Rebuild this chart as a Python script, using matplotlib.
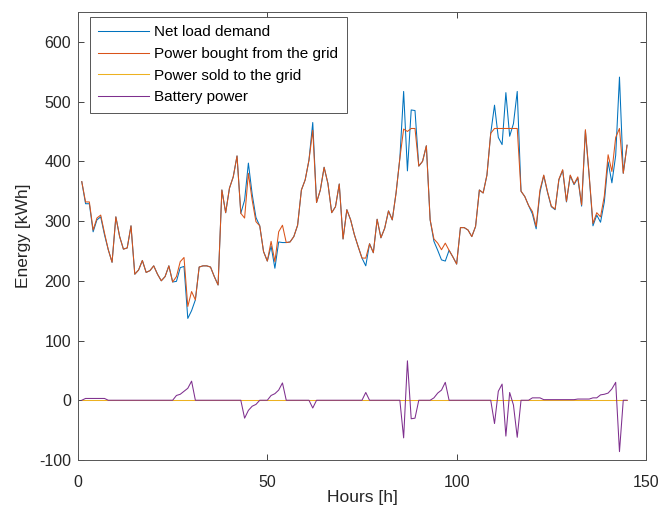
"""
Hourly energy balance: load, grid exchange and battery power
"""
import numpy as np
import matplotlib.pyplot as plt

plt.rcParams['font.family'] = ['Liberation Sans', 'DejaVu Sans']
plt.rcParams['axes.unicode_minus'] = False

hours = np.arange(1, 146)

# power bought from the grid [kWh]
bought = [
    366, 332, 332, 285, 305, 310, 280, 252, 231, 307,
    274, 253, 255, 292, 211, 218, 234, 214, 217, 225,
    211, 200, 207, 225, 198, 207, 232, 239, 157, 182,
    168, 223, 225, 225, 223, 207, 193, 352, 314, 355,
    374, 409, 313, 305, 380, 335, 299, 292, 249, 233,
    266, 232, 282, 293, 264, 265, 274, 293, 352, 369,
    402, 452, 331, 352, 390, 363, 314, 324, 362, 270,
    319, 302, 277, 257, 238, 238, 262, 247, 303, 272,
    288, 317, 302, 347, 405, 454, 450, 455, 455, 392,
    400, 426, 302, 270, 263, 252, 263, 251, 240, 228,
    289, 289, 285, 274, 291, 352, 347, 377, 447, 455,
    455, 455, 455, 455, 455, 455, 350, 341, 326, 316,
    291, 352, 377, 349, 325, 320, 370, 386, 333, 377,
    362, 374, 327, 453, 377, 296, 314, 307, 342, 411,
    383, 440, 455, 380, 427,
]

# net load demand [kWh]
load = [
    366, 329, 329, 282, 302, 307, 277, 252, 231, 307,
    274, 253, 255, 292, 211, 218, 234, 214, 217, 225,
    211, 200, 207, 225, 198, 199, 222, 224, 137, 150,
    168, 223, 225, 225, 223, 207, 193, 352, 314, 355,
    374, 409, 313, 335, 397, 345, 306, 292, 249, 233,
    258, 221, 265, 264, 264, 265, 274, 293, 352, 369,
    402, 465, 331, 352, 390, 363, 314, 324, 362, 270,
    319, 302, 277, 257, 238, 225, 262, 247, 303, 272,
    288, 317, 302, 347, 405, 517, 384, 486, 485, 392,
    400, 426, 302, 266, 251, 235, 233, 251, 240, 228,
    289, 289, 285, 274, 291, 352, 347, 377, 447, 494,
    440, 428, 515, 442, 463, 517, 350, 341, 326, 312,
    287, 348, 376, 348, 324, 319, 369, 385, 332, 376,
    361, 372, 325, 451, 375, 292, 310, 298, 332, 399,
    364, 410, 541, 380, 427,
]

# power sold to the grid [kWh]
sold = [0] * 145

# battery power [kWh], positive = charging
battery = [
    0, 3, 3, 3, 3, 3, 3, 0, 0, 0,
    0, 0, 0, 0, 0, 0, 0, 0, 0, 0,
    0, 0, 0, 0, 0, 8, 10, 15, 20, 32,
    0, 0, 0, 0, 0, 0, 0, 0, 0, 0,
    0, 0, 0, -30, -17, -10, -7, 0, 0, 0,
    8, 11, 17, 29, 0, 0, 0, 0, 0, 0,
    0, -13, 0, 0, 0, 0, 0, 0, 0, 0,
    0, 0, 0, 0, 0, 13, 0, 0, 0, 0,
    0, 0, 0, 0, 0, -63, 66, -31, -30, 0,
    0, 0, 0, 4, 12, 17, 30, 0, 0, 0,
    0, 0, 0, 0, 0, 0, 0, 0, 0, -39,
    15, 27, -60, 13, -8, -62, 0, 0, 0, 4,
    4, 4, 1, 1, 1, 1, 1, 1, 1, 1,
    1, 2, 2, 2, 2, 4, 4, 9, 10, 12,
    19, 30, -86, 0, 0,
]

fig = plt.figure(figsize=(6.62, 5.17), dpi=100)
ax = fig.add_axes([0.1178, 0.1103, 0.858, 0.8665])

ax.plot(hours, load, color='#0072BD', lw=0.75, label='Net load demand')
ax.plot(hours, bought, color='#D95319', lw=0.75, label='Power bought from the grid')
ax.plot(hours, sold, color='#EDB120', lw=0.75, label='Power sold to the grid')
ax.plot(hours, battery, color='#7E2F8E', lw=0.75, label='Battery power')

ax.set_xlim(0, 150)
ax.set_ylim(-100, 650)
ax.set_xticks([0, 50, 100, 150])
ax.set_yticks(np.arange(-100, 601, 100))
ax.tick_params(direction='in', top=True, right=True, length=4, width=0.6,
               colors='#262626', labelsize=11.5)
ax.tick_params(axis='x', pad=11)
ax.tick_params(axis='y', pad=5)
for s in ax.spines.values():
    s.set_color('#555555')
    s.set_linewidth(0.7)

ax.set_xlabel('Hours [h]', fontsize=12.5, color='#262626', labelpad=0)
ax.set_ylabel('Energy [kWh]', fontsize=12.5, color='#262626', labelpad=6)

leg = ax.legend(loc='upper left', bbox_to_anchor=(12 / 568, 1 - 5 / 448),
                borderaxespad=0, fontsize=11, fancybox=False, framealpha=1,
                edgecolor='#555555', handlelength=3.3, handletextpad=0.35,
                labelspacing=0.5, borderpad=0.55)
leg.get_frame().set_linewidth(0.7)

plt.savefig('out.png', dpi=100)
